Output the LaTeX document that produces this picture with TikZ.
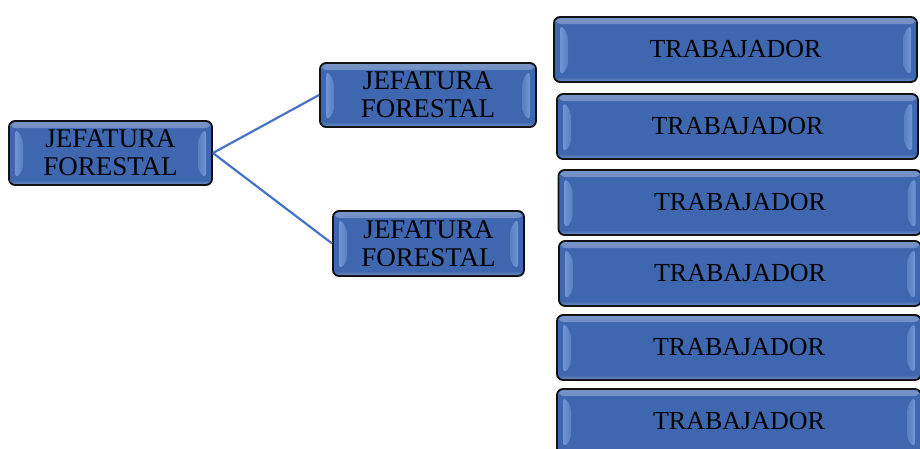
\documentclass[tikz,border=0pt]{standalone}
\usepackage{fontspec}
\setmainfont{Liberation Serif}
\definecolor{boxblue}{RGB}{62,103,176}
\definecolor{hilite}{RGB}{210,230,255}
\definecolor{hiedge}{RGB}{110,150,215}
\definecolor{linkblue}{RGB}{72,114,196}
\definecolor{edgecol}{RGB}{18,18,18}
\tikzset{
  jbox/.style={draw=edgecol, line width=1.8pt, rounded corners=6pt, fill=boxblue,
    inner sep=0pt, align=center, font=\fontsize{26}{28}\selectfont, text=black,
    path picture={
      % top light band
      \fill[top color=boxblue!70!white, bottom color=boxblue]
        ([shift={(1pt,-1pt)}]path picture bounding box.north west)
        rectangle ([shift={(-1pt,-7pt)}]path picture bounding box.north east);
      % bottom light band
      \fill[bottom color=boxblue!78!white, top color=boxblue]
        ([shift={(1pt,1pt)}]path picture bounding box.south west)
        rectangle ([shift={(-1pt,5pt)}]path picture bounding box.south east);
      % left bevel highlight
      \shade[left color=hiedge, middle color=hilite, right color=boxblue!85!white]
        ([shift={(6pt,-7pt)}]path picture bounding box.north west)
        -- ([shift={(14pt,-17pt)}]path picture bounding box.north west)
        -- ([shift={(14pt,14pt)}]path picture bounding box.south west)
        -- ([shift={(6pt,6pt)}]path picture bounding box.south west) -- cycle;
      % right bevel highlight
      \shade[right color=hiedge, middle color=hilite, left color=boxblue!85!white]
        ([shift={(-6pt,-7pt)}]path picture bounding box.north east)
        -- ([shift={(-14pt,-17pt)}]path picture bounding box.north east)
        -- ([shift={(-14pt,14pt)}]path picture bounding box.south east)
        -- ([shift={(-6pt,6pt)}]path picture bounding box.south east) -- cycle;
    }},
  jefe/.style={jbox, font=\fontsize{27}{28}\selectfont},
  link/.style={draw=linkblue, line width=2.2pt}
}
\begin{document}
\begin{tikzpicture}[x=1pt,y=-1pt]
\useasboundingbox (0,0) rectangle (920,448);
\clip (0,0) rectangle (920,448);
\fill[white] (0,0) rectangle (920,448);
\node[jefe, minimum width=203pt, minimum height=64pt] (root) at (110.5,153) {JEFATURA\\FORESTAL};
\node[jefe, minimum width=216pt, minimum height=64pt] (j1) at (428,95) {JEFATURA\\FORESTAL};
\node[jefe, minimum width=191pt, minimum height=65pt] (j2) at (428.5,243.5) {JEFATURA\\FORESTAL};
\node[jbox, minimum width=363pt, minimum height=65pt] (t1) at (735.5,49.5) {TRABAJADOR};
\node[jbox, minimum width=361pt, minimum height=65pt] (t2) at (737.5,126.5) {TRABAJADOR};
\node[jbox, minimum width=363pt, minimum height=65pt] (t3) at (740,202.5) {TRABAJADOR};
\node[jbox, minimum width=362pt, minimum height=65pt] (t4) at (740,273.5) {TRABAJADOR};
\node[jbox, minimum width=364pt, minimum height=65pt] (t5) at (739,347.5) {TRABAJADOR};
\node[jbox, minimum width=364pt, minimum height=65pt] (t6) at (739,421.5) {TRABAJADOR};
\draw[link] (root.east) -- (j1.west);
\draw[link] (root.east) -- (j2.west);
\end{tikzpicture}
\end{document}
